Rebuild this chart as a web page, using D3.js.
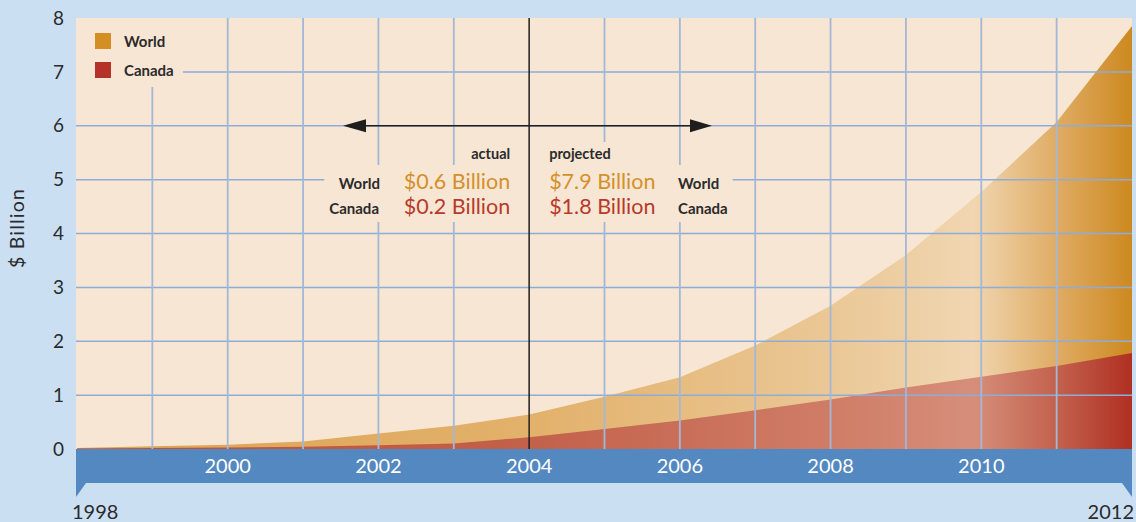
<!DOCTYPE html>
<html lang="en">
<head>
<meta charset="utf-8">
<title>World and Canada market, $ Billion</title>
<script src="https://cdn.jsdelivr.net/npm/d3@7"></script>
<style>
  body { margin: 0; background: #cbdff3; }
  svg { display: block; font-family: Lato, "Open Sans", sans-serif; }
</style>
</head>
<body>
<div id="chart"></div>
<script>
// data
var years  = [1998, 1999, 2000, 2001, 2002, 2003, 2004, 2005, 2006, 2007, 2008, 2009, 2010, 2011, 2012];
var world  = [0.02, 0.05, 0.08, 0.14, 0.29, 0.43, 0.64, 0.97, 1.33, 1.92, 2.66, 3.60, 4.77, 6.07, 7.85];
var canada = [0.01, 0.02, 0.03, 0.04, 0.07, 0.10, 0.22, 0.37, 0.53, 0.72, 0.92, 1.14, 1.34, 1.54, 1.78];
var yTicks = [0, 1, 2, 3, 4, 5, 6, 7, 8];
var xLabels = [2000, 2002, 2004, 2006, 2008, 2010];
var split = 2004;

var w = 1136, h = 522;
// plot box (note: "top" is reserved on window, so prefixed names)
var pLeft = 76, pRight = 1132, pTop = 18, pBottom = 449;

var svg = d3.select('#chart').append('svg')
    .attr('width', w)
    .attr('height', h);

var x = d3.scaleLinear().domain([1998, 2012]).range([77, pRight]);
var y = d3.scaleLinear().domain([0, 8]).range([pBottom, pTop]);

// gradients along x for the two areas
var defs = svg.append('defs');
function grad(id, stops) {
    var g = defs.append('linearGradient')
        .attr('id', id)
        .attr('gradientUnits', 'userSpaceOnUse')
        .attr('x1', pLeft).attr('x2', pRight).attr('y1', 0).attr('y2', 0);
    stops.forEach(function (s) {
        g.append('stop').attr('offset', s[0]).attr('stop-color', s[1]);
    });
}
grad('gWorld', [[0, '#dca352'], [0.43, '#e2b16b'], [0.71, '#eac795'], [0.85, '#f0d6b1'], [0.93, '#dfab63'], [1, '#cd8920']]);
grad('gCanada', [[0, '#bd4c37'], [0.43, '#c3614b'], [0.71, '#cf7c66'], [0.85, '#d68e7a'], [0.93, '#c2614c'], [1, '#b02f23']]);

// plot background
svg.append('rect')
    .attr('x', pLeft).attr('y', pTop)
    .attr('width', pRight - pLeft).attr('height', pBottom - pTop)
    .attr('fill', '#f7e6d3');

// areas
var area = function (vals) {
    return d3.area()
        .x(function (d, i) { return x(years[i]); })
        .y0(y(0))
        .y1(function (d) { return y(d); })(vals);
};
svg.append('path').attr('d', area(world)).attr('fill', 'url(#gWorld)');
svg.append('path').attr('d', area(canada)).attr('fill', 'url(#gCanada)');

// grid
var grid = svg.append('g');
grid.selectAll('line.h')
    .data(yTicks.filter(function (d) { return d > 0 && d < 8; }))
    .enter().append('line')
    .attr('x1', pLeft).attr('x2', pRight)
    .attr('y1', function (d) { return y(d); })
    .attr('y2', function (d) { return y(d); })
    .attr('stroke', '#8badda')
    .attr('stroke-width', 1.5);
grid.selectAll('line.v')
    .data(years.filter(function (d) { return d > 1998 && d < 2012 && d != split; }))
    .enter().append('line')
    .attr('x1', function (d) { return x(d); })
    .attr('x2', function (d) { return x(d); })
    .attr('y1', pTop).attr('y2', pBottom)
    .attr('stroke', '#a3b8d6')
    .attr('stroke-width', 1.8);

// legend (with knockout behind it)
svg.append('rect')
    .attr('x', pLeft).attr('y', pTop)
    .attr('width', 183 - pLeft).attr('height', 87 - pTop)
    .attr('fill', '#f7e6d3');
var legend = [['World', '#d48f24'], ['Canada', '#b43227']];
legend.forEach(function (l, i) {
    svg.append('rect')
        .attr('x', 95).attr('y', 33 + i * 29)
        .attr('width', 16).attr('height', 16)
        .attr('fill', l[1]);
    svg.append('text')
        .attr('x', 124).attr('y', 47 + i * 29)
        .attr('font-size', 15).attr('font-weight', 700)
        .attr('fill', '#2b2b2b')
        .text(l[0]);
});

// annotation block
var note = svg.append('g');
var knock = note.append('g');
var txt = note.append('g');
var sx = x(split);

function label(g, tx, ty, anchor, size, weight, color, s) {
    return g.append('text')
        .attr('x', tx).attr('y', ty)
        .attr('text-anchor', anchor)
        .attr('font-size', size)
        .attr('font-weight', weight)
        .attr('fill', color)
        .text(s);
}
var head = txt.append('g');
label(head, sx - 19, 159, 'end', 14.5, 700, '#2b2b2b', 'actual');
label(head, sx + 20, 159, 'start', 14.5, 700, '#2b2b2b', 'projected');

var body = txt.append('g');
label(body, 380, 189, 'end', 15, 700, '#2b2b2b', 'World');
label(body, 379, 214, 'end', 15, 700, '#2b2b2b', 'Canada');
label(body, sx - 19, 189, 'end', 21.5, 400, '#d4902a', '$' + world[years.indexOf(split)].toFixed(1) + ' Billion');
label(body, sx - 19, 214, 'end', 21.5, 400, '#b83a2a', '$' + canada[years.indexOf(split)].toFixed(1) + ' Billion');
label(body, sx + 20, 189, 'start', 21.5, 400, '#d4902a', '$7.9 Billion');
label(body, sx + 20, 214, 'start', 21.5, 400, '#b83a2a', '$1.8 Billion');
label(body, 678, 189, 'start', 15, 700, '#2b2b2b', 'World');
label(body, 678, 214, 'start', 15, 700, '#2b2b2b', 'Canada');

function pad(node, px, py) {
    var b = node.getBBox();
    knock.append('rect')
        .attr('x', b.x - px).attr('y', b.y - py)
        .attr('width', b.width + 2 * px).attr('height', b.height + 2 * py)
        .attr('fill', '#f7e6d3');
}
pad(body.node(), 5, 3);
head.selectAll('text').each(function () { pad(this, 4, 3); });

// split line and arrow
svg.append('line')
    .attr('x1', sx).attr('x2', sx)
    .attr('y1', pTop).attr('y2', pBottom)
    .attr('stroke', '#1e1e1e').attr('stroke-width', 1.5);
var ay = y(6);
svg.append('line')
    .attr('x1', 360).attr('x2', 695)
    .attr('y1', ay).attr('y2', ay)
    .attr('stroke', '#1e1e1e').attr('stroke-width', 1.5);
svg.append('path')
    .attr('d', 'M343,' + ay + 'L366,' + (ay - 6.5) + 'L366,' + (ay + 6.5) + 'Z')
    .attr('fill', '#1e1e1e');
svg.append('path')
    .attr('d', 'M712,' + ay + 'L690,' + (ay - 6.5) + 'L690,' + (ay + 6.5) + 'Z')
    .attr('fill', '#1e1e1e');

// bottom band with year labels
svg.append('rect')
    .attr('x', pLeft).attr('y', pBottom)
    .attr('width', pRight - pLeft).attr('height', 34)
    .attr('fill', '#5488c0');
svg.append('path')
    .attr('d', 'M' + pLeft + ',483L' + (pLeft + 10) + ',483L' + pLeft + ',497Z')
    .attr('fill', '#5488c0');
svg.append('path')
    .attr('d', 'M' + pRight + ',483L' + (pRight - 10) + ',483L' + pRight + ',497Z')
    .attr('fill', '#5488c0');
svg.selectAll('text.yr')
    .data(xLabels)
    .enter().append('text')
    .attr('x', function (d) { return x(d); })
    .attr('y', 473)
    .attr('text-anchor', 'middle')
    .attr('font-size', 20)
    .attr('fill', '#ffffff')
    .text(function (d) { return d; });
svg.append('text')
    .attr('x', 72).attr('y', 519)
    .attr('font-size', 20).attr('fill', '#2b2b2b')
    .text(years[0]);
svg.append('text')
    .attr('x', 1134).attr('y', 519)
    .attr('text-anchor', 'end')
    .attr('font-size', 20).attr('fill', '#2b2b2b')
    .text(years[years.length - 1]);

// y axis labels
svg.selectAll('text.yt')
    .data(yTicks)
    .enter().append('text')
    .attr('x', 64)
    .attr('y', function (d) { return y(d); })
    .attr('dy', '0.35em')
    .attr('text-anchor', 'end')
    .attr('font-size', 19)
    .attr('fill', '#2b2b2b')
    .text(function (d) { return d; });
svg.append('text')
    .attr('transform', 'translate(24,228) rotate(-90)')
    .attr('text-anchor', 'middle')
    .attr('font-size', 19.5)
    .attr('letter-spacing', 1.2)
    .attr('fill', '#2b2b2b')
    .text('$ Billion');
</script>
</body>
</html>
